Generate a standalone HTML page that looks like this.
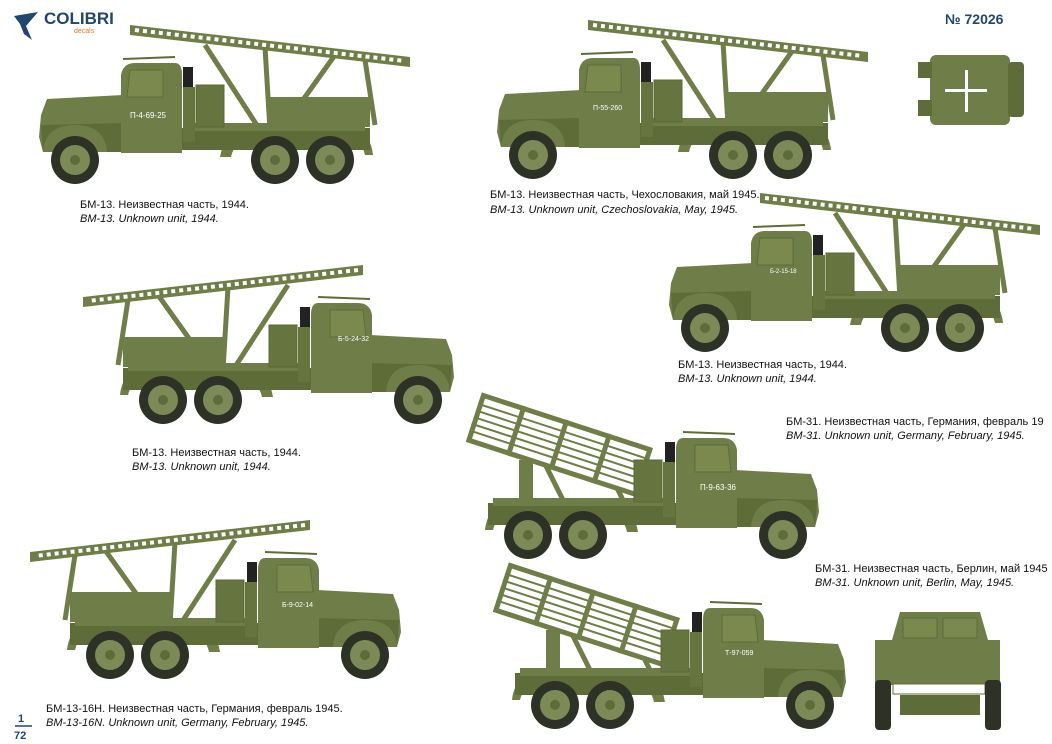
<!DOCTYPE html>
<html><head><meta charset="utf-8"><style>
body{margin:0;background:#fff;}
svg{display:block}
text{font-family:"Liberation Sans",sans-serif;font-size:11px;fill:#111}
.i{font-style:italic}
</style></head><body>
<svg width="1052" height="744" viewBox="0 0 1052 744" xmlns="http://www.w3.org/2000/svg">
<defs>
<g id="wheel">
<circle r="24" fill="#2e3226"/>
<circle r="15" fill="#7d8a58"/>
<circle r="5" fill="#5e6c3a"/>
</g>
<g id="base">
<path d="M185,132 Q190,98 240,98 L300,98 Q335,100 338,130 L330,130 Q325,108 295,108 L240,108 Q200,110 196,132 Z" fill="#6f7d48"/>
<rect x="85" y="103" width="250" height="22" fill="#5e6c3a"/>
<rect x="150" y="98" width="180" height="8" fill="#6f7d48"/>
<path d="M12,74 L88,70 L88,127 L8,127 L4,112 L6,90 Z" fill="#6f7d48"/>
<path d="M6,100 L88,98 L88,127 L8,127 Z" fill="#5e6c3a"/>
<path d="M8,127 Q10,100 40,100 Q70,100 72,127 Z" fill="#6f7d48"/>
<path d="M86,128 L86,50 Q88,38 100,38 L140,38 Q147,38 147,50 L147,128 Z" fill="#6f7d48"/>
<path d="M95,45 L128,45 L128,72 L92,72 Z" fill="#7b894f" stroke="#5e6c3a" stroke-width="1"/>
<line x1="88" y1="34" x2="140" y2="32" stroke="#5e6c3a" stroke-width="2"/>
<rect x="148" y="42" width="10" height="22" fill="#222"/>
<rect x="148" y="62" width="12" height="55" fill="#66743f"/>
<rect x="161" y="60" width="28" height="42" fill="#66743f" stroke="#5a6836" stroke-width="1"/>
<use href="#wheel" x="40" y="135"/>
<use href="#wheel" x="240" y="135"/>
<use href="#wheel" x="295" y="135"/>
</g>
<g id="r13">
<line x1="170" y1="20" x2="225" y2="105" stroke="#6f7d48" stroke-width="5"/>
<line x1="230" y1="22" x2="235" y2="105" stroke="#6f7d48" stroke-width="5"/>
<line x1="300" y1="30" x2="250" y2="100" stroke="#6f7d48" stroke-width="5"/>
<line x1="330" y1="35" x2="340" y2="100" stroke="#6f7d48" stroke-width="5"/>
<polygon points="95,0 375,32 375,42 95,10" fill="#6f7d48"/>
<line x1="100" y1="5" x2="370" y2="36" stroke="#fff" stroke-width="4" stroke-dasharray="4 4"/>
<rect x="235" y="72" width="100" height="30" fill="#6f7d48"/>
</g>
<g id="r31">
<line x1="200" y1="100" x2="230" y2="40" stroke="#6f7d48" stroke-width="5"/>
<line x1="260" y1="100" x2="280" y2="60" stroke="#6f7d48" stroke-width="5"/>
<rect x="290" y="60" width="14" height="45" fill="#6f7d48"/>
<g transform="translate(170,48) rotate(-18)">
<rect x="0" y="0" width="180" height="52" fill="#6f7d48"/>
<rect x="5" y="5" width="170" height="42" fill="#fff"/>
<g stroke="#6f7d48" stroke-width="2">
<line x1="0" y1="12" x2="180" y2="12"/><line x1="0" y1="19" x2="180" y2="19"/><line x1="0" y1="26" x2="180" y2="26"/><line x1="0" y1="33" x2="180" y2="33"/><line x1="0" y1="40" x2="180" y2="40"/>
</g>
<g fill="#6f7d48"><rect x="43" y="0" width="5" height="52"/><rect x="88" y="0" width="5" height="52"/><rect x="133" y="0" width="5" height="52"/></g>
</g>
</g>
</defs>

<path d="M14,16 L38,12 L26,26 L32,40 L24,34 L20,24 Z" fill="#22466e"/>
<text x="44" y="24" style="font-size:17px;font-weight:bold;fill:#22466e">COLIBRI</text>
<text x="74" y="33" style="font-size:7px;fill:#e07a2a">decals</text>
<text x="945" y="24" style="font-size:14px;font-weight:bold;fill:#22466e">№ 72026</text>
<text x="18" y="722" style="font-size:11px;font-weight:bold;fill:#22466e">1</text>
<line x1="15" y1="726" x2="32" y2="726" stroke="#22466e" stroke-width="1.5"/>
<text x="14" y="739" style="font-size:11px;font-weight:bold;fill:#22466e">72</text>

<g transform="translate(35,25)"><use href="#r13"/><use href="#base"/><text x="95" y="93" style="font-size:8px;fill:#fff">П-4-69-25</text></g>
<g transform="translate(493,20)"><use href="#r13"/><use href="#base"/><text x="100" y="90" style="font-size:7px;fill:#fff">П-55-260</text></g>
<g transform="translate(665,193)"><use href="#r13"/><use href="#base"/><text x="105" y="80" style="font-size:6px;fill:#fff">Б-2-15-18</text></g>
<g transform="translate(458,265) scale(-1,1)"><use href="#r13"/><use href="#base"/></g>
<text x="338" y="341" style="font-size:7px;fill:#fff">Б-5-24-32</text>
<g transform="translate(823,400) scale(-1,1)"><use href="#r31"/><use href="#base"/></g>
<text x="700" y="490" style="font-size:8px;fill:#fff">П-9-63-36</text>
<g transform="translate(405,520) scale(-1,1)"><use href="#r13"/><use href="#base"/></g>
<text x="282" y="607" style="font-size:7px;fill:#fff">Б-9-02-14</text>
<g transform="translate(850,570) scale(-1,1)"><use href="#r31"/><use href="#base"/></g>
<text x="725" y="655" style="font-size:7px;fill:#fff">Т-97-059</text>

<rect x="930" y="55" width="80" height="70" rx="6" fill="#6f7d48"/>
<rect x="918" y="62" width="14" height="16" fill="#5e6c3a"/>
<rect x="918" y="100" width="14" height="16" fill="#5e6c3a"/>
<rect x="1008" y="62" width="16" height="55" rx="4" fill="#5e6c3a"/>
<rect x="965" y="70" width="3" height="42" fill="#fff"/>
<rect x="945" y="89" width="42" height="3" fill="#fff"/>
<path d="M892,640 L900,612 L980,612 L988,640 Z" fill="#6f7d48"/>
<rect x="875" y="640" width="125" height="45" fill="#6f7d48"/>
<rect x="903" y="618" width="34" height="20" fill="#7b894f" stroke="#5e6c3a"/>
<rect x="943" y="618" width="34" height="20" fill="#7b894f" stroke="#5e6c3a"/>
<rect x="893" y="684" width="92" height="10" fill="#fff" stroke="#5e6c3a"/>
<rect x="875" y="680" width="16" height="50" rx="4" fill="#2e3226"/>
<rect x="985" y="680" width="16" height="50" rx="4" fill="#2e3226"/>
<rect x="900" y="695" width="80" height="20" fill="#5e6c3a"/>

<text x="80" y="208">БМ-13. Неизвестная часть,  1944.</text>
<text x="80" y="222" class="i">BM-13. Unknown unit, 1944.</text>
<text x="490" y="198">БМ-13. Неизвестная часть, Чехословакия, май 1945.</text>
<text x="490" y="213" class="i">BM-13. Unknown unit, Czechoslovakia, May, 1945.</text>
<text x="678" y="368">БМ-13. Неизвестная часть,  1944.</text>
<text x="678" y="382" class="i">BM-13. Unknown unit, 1944.</text>
<text x="132" y="456">БМ-13. Неизвестная часть,  1944.</text>
<text x="132" y="470" class="i">BM-13. Unknown unit, 1944.</text>
<text x="786" y="425">БМ-31. Неизвестная часть, Германия, февраль 19</text>
<text x="786" y="439" class="i">BM-31. Unknown unit, Germany, February, 1945.</text>
<text x="815" y="572">БМ-31. Неизвестная часть, Берлин, май 1945</text>
<text x="815" y="586" class="i">BM-31. Unknown unit, Berlin, May, 1945.</text>
<text x="46" y="712">БМ-13-16Н. Неизвестная часть, Германия, февраль 1945.</text>
<text x="46" y="726" class="i">BM-13-16N. Unknown unit, Germany, February, 1945.</text>
</svg>
</body></html>
